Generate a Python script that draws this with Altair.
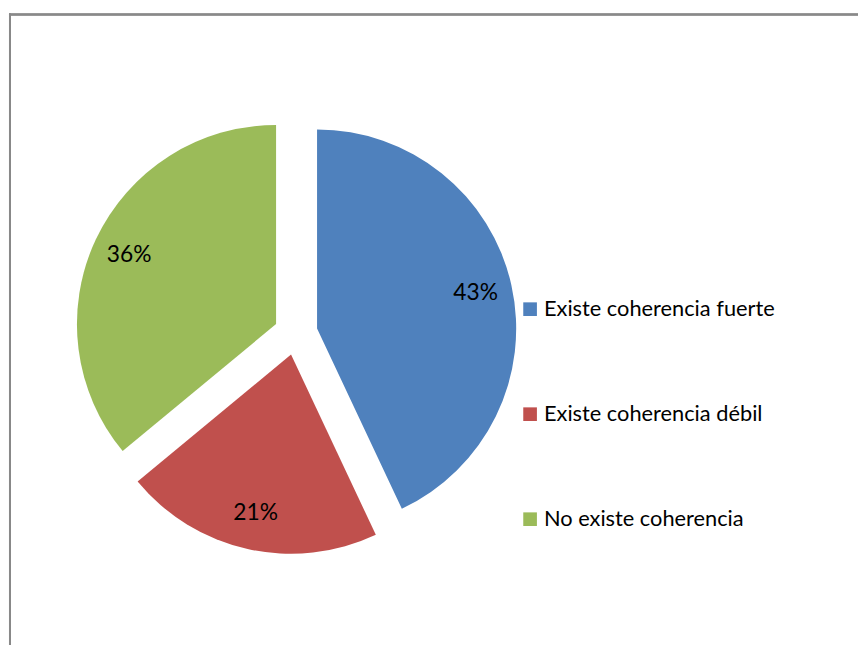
import altair as alt
import pandas as pd

categories = ["Existe coherencia fuerte", "Existe coherencia débil", "No existe coherencia"]
values = [43, 21, 36]
colors = ["#4F81BD", "#C0504D", "#9BBB59"]
order = [1, 2, 3]

df = pd.DataFrame({"cat": categories, "value": values, "ord": order})

CX, CY, EXPLODE, R, LR = 290.5, 325.4, 22, 201, 164

base = alt.Chart(df).transform_joinaggregate(
    total="sum(value)"
).transform_window(
    cum="sum(value)", sort=[alt.SortField("ord")], frame=[None, 0]
).transform_calculate(
    t1="(datum.cum - datum.value) / datum.total * 2 * PI",
    t2="datum.cum / datum.total * 2 * PI",
).transform_calculate(
    mid="(datum.t1 + datum.t2) / 2"
).transform_calculate(
    cx=f"{CX} + {EXPLODE} * sin(datum.mid)",
    cy=f"{CY} - {EXPLODE} * cos(datum.mid)",
).transform_calculate(
    lx=f"datum.cx + {LR} * sin(datum.mid)",
    ly=f"datum.cy - {LR} * cos(datum.mid)",
    lab="datum.value + '%'",
)

arcs = base.mark_arc(radius=R).encode(
    x=alt.X("cx:Q", scale=None, axis=None),
    y=alt.Y("cy:Q", scale=None, axis=None),
    theta=alt.Theta("t1:Q", scale=None, stack=None),
    theta2="t2:Q",
    color=alt.Color(
        "cat:N",
        scale=alt.Scale(domain=categories, range=colors),
        sort=categories,
        legend=alt.Legend(
            title=None,
            orient="none",
            legendX=516,
            legendY=290,
            symbolType="square",
            symbolSize=190,
            symbolStrokeWidth=0,
            labelFont="Lato",
            labelFontSize=22,
            labelColor="#000000",
            labelOffset=3,
            labelLimit=0,
            rowPadding=84,
            padding=0,
        ),
    ),
)

labels = base.mark_text(font="Lato", fontSize=23, color="#000000", baseline="middle", align="center").encode(
    x=alt.X("lx:Q", scale=None, axis=None),
    y=alt.Y("ly:Q", scale=None, axis=None),
    text="lab:N",
)

border_left = alt.Chart(df).mark_rule(color="#898989", strokeWidth=2).encode(
    x=alt.value(2), y=alt.value(2.5), y2=alt.value(640)
)
border_top = alt.Chart(df).mark_rule(color="#898989", strokeWidth=2).encode(
    x=alt.value(1), x2=alt.value(858), y=alt.value(3.5)
)

chart = alt.layer(arcs, labels, border_left, border_top).properties(
    width=858, height=640, padding=0, autosize=alt.AutoSizeParams(type="none")
).configure_view(stroke=None)

chart.save("out.html", embed_options={"renderer": "svg", "actions": False})
